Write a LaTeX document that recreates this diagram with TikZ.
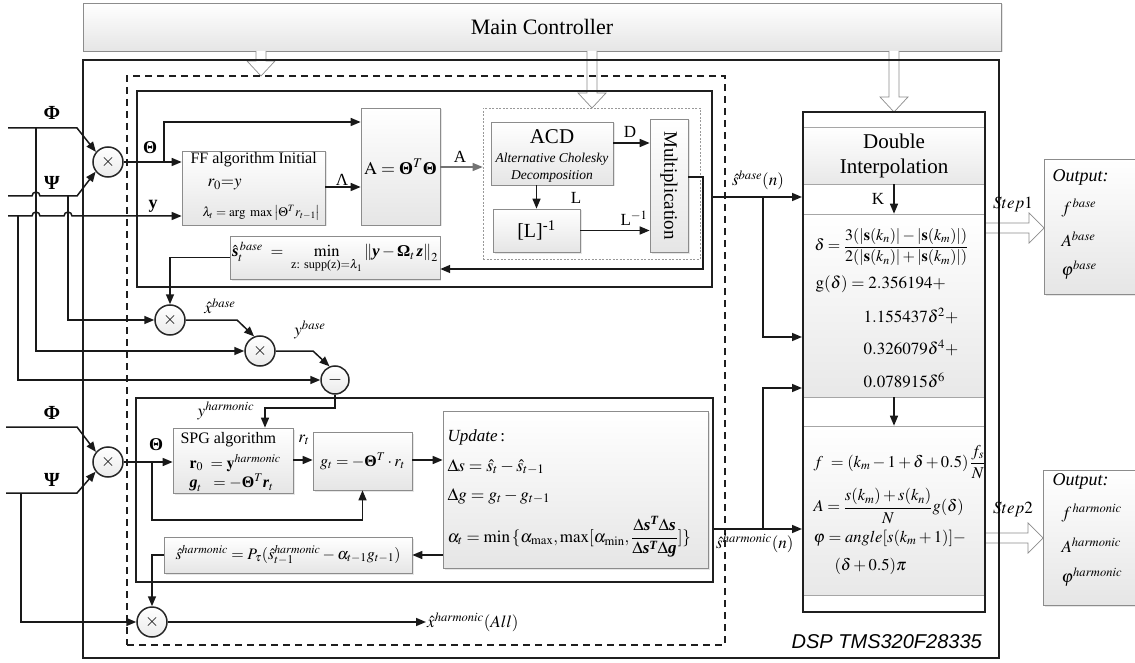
\documentclass[tikz,border=0pt]{standalone}
\usepackage{amsmath}
\usepackage{mathptmx}
\usepackage[no-math]{fontspec}
\setmainfont{Liberation Serif}
\newfontfamily\dspfont{Liberation Sans}
\usetikzlibrary{arrows.meta,shadows}
\newcommand\tb[1]{\text{\normalfont\bfseries #1}}
\newcommand\tbi[1]{\text{\normalfont\bfseries\itshape #1}}
\newcommand\fs[2]{\fontsize{#1}{#2}\selectfont}
\newcommand\hollowdown[3]{\draw[hollow] (#1-5,#2) -- (#1-5,#3-15) -- (#1-14,#3-15) -- (#1,#3) -- (#1+14,#3-15) -- (#1+5,#3-15) -- (#1+5,#2);}
\newcommand\hollowright[3]{\draw[hollow] (#1,#3-5) -- (#2-15,#3-5) -- (#2-15,#3-15) -- (#2,#3) -- (#2-15,#3+15) -- (#2-15,#3+5) -- (#1,#3+5);}
\begin{document}
\begin{tikzpicture}[x=1pt,y=-1pt,font=\fs{16}{19},
  gbox/.style={draw=black!45, line width=0.7pt, top color=white, bottom color=black!10, inner sep=2pt,
     drop shadow={opacity=0.2,shadow xshift=1.5pt,shadow yshift=-1.5pt}},
  sect/.style={draw=black!35, line width=0.6pt, top color=white, bottom color=black!9, inner sep=0pt},
  frame/.style={draw=black!88, line width=2pt, inner sep=0pt},
  conn/.style={line width=1.5pt, draw=black!90},
  arr/.style={conn, -{Triangle[length=10pt,width=8pt]}},
  mulc/.style={circle, draw=black!85, line width=1.5pt, top color=white, bottom color=black!8, minimum size=30pt, inner sep=0pt, font=\fs{18}{20}},
  hollow/.style={draw=black!45, fill=white, line width=0.7pt},
  lab/.style={inner sep=1pt}]
\useasboundingbox (0,0) rectangle (1135,663);

% main controller
\node[gbox, minimum width=918pt, minimum height=48pt, font=\fs{22}{26}] (main) at (542,27) {Main Controller};

% hollow arrows
\hollowdown{261}{51}{76}
\hollowdown{592}{51}{108}
\hollowdown{894}{51}{112}
\hollowright{985}{1044}{228}
\hollowright{985}{1043}{538}

% frames
\node[frame, minimum width=916pt, minimum height=598pt] (dsp) at (541,359) {};
\node[frame, dashed, dash pattern=on 7pt off 5pt, line width=1.6pt, minimum width=598pt, minimum height=569pt] (dash) at (426,360.5) {};
\node[frame, line width=2.4pt, minimum width=575pt, minimum height=196pt] (up) at (424.5,189) {};
\node[frame, line width=2.4pt, minimum width=577pt, minimum height=184pt] (low) at (424.5,490) {};
\node[draw=black!40, dash pattern=on 2pt off 1.5pt, line width=0.6pt, minimum width=217pt, minimum height=151pt] (grp) at (591.5,183.5) {};

% upper boxes
\node[gbox, minimum width=143pt, minimum height=74pt] (ff) at (253.5,188) {};
\node[anchor=west] at (187,160) {FF algorithm Initial};
\node[anchor=west, font=\fs{17}{20}] at (204,185) {$r_0{=}y$};
\node[anchor=west, font=\fs{13}{16}] at (199,213) {$\lambda_t=\arg\ \max\left|\Theta^{T} r_{t-1}\right|$};

\node[gbox, minimum width=79pt, minimum height=117pt, font=\fs{18}{22}] (A) at (400.5,166.5) {$\mathrm{A}=\tb{Θ}^{T}\tb{Θ}$};

\node[gbox, minimum width=122pt, minimum height=63pt] (acd) at (552,153.5) {};
\node[font=\fs{21}{24}] at (552,137) {ACD};
\node[font=\fs{13.5}{16}\itshape] at (552,159) {Alternative Cholesky};
\node[font=\fs{13.5}{16}\itshape] at (552,176) {Decomposition};

\node[gbox, minimum width=87pt, minimum height=43pt, font=\fs{20}{24}] (linv) at (536.5,230.5) {[L]\textsuperscript{-1}};
\node[gbox, minimum width=38pt, minimum height=133pt] (mult) at (669,185.5) {};
\node[rotate=-90, font=\fs{19}{22}] at (mult.center) {Multiplication};

\node[gbox, minimum width=208pt, minimum height=43pt, font=\fs{16.5}{19}] (shb) at (335,257.5)
  {$\hat{\tbi{s}}_t^{\,base}\ =\ \min\limits_{\text{z: supp(z)}=\lambda_1}\left\|\tbi{y}-\tb{Ω}_t\,\tbi{z}\right\|_2$};

% lower boxes
\node[gbox, minimum width=120pt, minimum height=65pt] (spg) at (233,460.5) {};
\node[anchor=west] at (177,440) {SPG algorithm};
\node[anchor=west] at (186,463) {$\mathbf{r}_0\ =\mathbf{y}^{harmonic}$};
\node[anchor=west] at (186,483) {$\tbi{g}_t\ \ =-\tb{Θ}^{T}\tbi{r}_t$};

\node[gbox, minimum width=99pt, minimum height=58pt] (gt) at (362.5,461) {$g_t=-\tb{Θ}^{T}\cdot r_t$};

\node[gbox, minimum width=265pt, minimum height=157pt] (upd) at (575.5,489.5) {};
\node[anchor=west, font=\fs{17}{20}] at (444,437) {\textit{Update}\,:};
\node[anchor=west, font=\fs{17.5}{20}] at (444,467) {$\Delta s=\hat{s}_t-\hat{s}_{t-1}$};
\node[anchor=west, font=\fs{17.5}{20}] at (444,496) {$\Delta g=g_t-g_{t-1}$};
\node[anchor=west, font=\fs{17}{20}] at (444,537) {$\alpha_t=\min\,\{\alpha_{\max},\max[\alpha_{\min},\dfrac{\Delta\tbi{s}^{\tbi{T}}\Delta\tbi{s}}{\Delta\tbi{s}^{\tbi{T}}\Delta\tbi{g}}]\}$};

\node[gbox, minimum width=248pt, minimum height=36pt] (shh) at (288,555) {$\hat{s}^{harmonic}=P_\tau(\hat{s}_{t-1}^{harmonic}-\alpha_{t-1}g_{t-1})$};

% double interpolation
\node[sect, minimum width=182pt, minimum height=57pt, align=center, font=\fs{21}{25}] (dit) at (894,155.5) {Double\\Interpolation};
\node[sect, minimum width=182pt, minimum height=183pt] (dif1) at (894,305.5) {};
\node[sect, minimum width=182pt, minimum height=169pt] (dif2) at (894,510.5) {};
\node[frame, minimum width=182pt, minimum height=500pt] (di) at (894,362) {};
\node[font=\fs{17}{20}] at (878,199) {K};
\node[anchor=west, font=\fs{16}{18}] at (811,247) {$\delta=\dfrac{3(|\mathbf{s}(k_n)|-|\mathbf{s}(k_m)|)}{2(|\mathbf{s}(k_n)|+|\mathbf{s}(k_m)|)}$};
\node[anchor=west, font=\fs{17}{19}] at (812,284) {$\mathrm{g}(\delta)=2.356194+$};
\node[anchor=west, font=\fs{17}{19}] at (860,316) {$1.155437\delta^2+$};
\node[anchor=west, font=\fs{17}{19}] at (860,348) {$0.326079\delta^4+$};
\node[anchor=west, font=\fs{17}{19}] at (860,380) {$0.078915\delta^6$};
\node[anchor=west, font=\fs{16.5}{19}] at (810,462) {$f\ =(k_m-1+\delta+0.5)\,\dfrac{f_s}{N}$};
\node[anchor=west, font=\fs{16.5}{19}] at (810,506) {$A=\dfrac{s(k_m)+s(k_n)}{N}g(\delta)$};
\node[anchor=west, font=\fs{16.5}{19}] at (810,538) {$\varphi=angle[s(k_m+1)]-$};
\node[anchor=west, font=\fs{16.5}{19}] at (831,566) {$(\delta+0.5)\pi$};

% outputs
\node[gbox, minimum width=96pt, minimum height=135pt, anchor=north west] (out1) at (1044,159) {};
\node[anchor=west, font=\fs{18}{20}\itshape] at (1049,177) {Output:};
\node[anchor=west, font=\fs{17}{20}] at (1058,208) {$f^{\,base}$};
\node[anchor=west, font=\fs{17}{20}] at (1058,239) {$A^{base}$};
\node[anchor=west, font=\fs{17}{20}] at (1058,270) {$\varphi^{base}$};
\node[gbox, minimum width=97pt, minimum height=135pt, anchor=north west] (out2) at (1043,470) {};
\node[anchor=west, font=\fs{18}{20}\itshape] at (1049,481) {Output:};
\node[anchor=west, font=\fs{17}{20}] at (1058,513) {$f^{\,harmonic}$};
\node[anchor=west, font=\fs{17}{20}] at (1058,545) {$A^{harmonic}$};
\node[anchor=west, font=\fs{17}{20}] at (1058,577) {$\varphi^{harmonic}$};

% circles
\node[mulc] (c1) at (108,162) {$\times$};
\node[mulc] (c2) at (170,320) {$\times$};
\node[mulc] (c3) at (260,351) {$\times$};
\node[mulc, minimum size=28pt] (cm) at (335,380) {$-$};
\node[mulc] (c4) at (108,462) {$\times$};
\node[mulc] (c5) at (152,622) {$\times$};

% upper-left inputs
\draw[arr] (8,128) -- (77,128) -- (c1.140);
\draw[arr] (8,196) -- (32,196) arc[start angle=180,end angle=0,radius=4pt] -- (77,196) -- (c1.218);
\draw[arr] (8,216) -- (32,216) arc[start angle=180,end angle=0,radius=4pt] -- (64,216) arc[start angle=180,end angle=0,radius=4pt] -- (ff.west |- 0,216);
\draw[arr] (18,216) -- (18,380) -- (cm.west);
\draw[arr] (36,128) -- (36,351) -- (c3.west);
\draw[arr] (68,196) -- (68,320) -- (c2.west);
\draw[arr] (c1.east) -- (ff.west |- c1.east);
\draw[arr] (164,162) -- (164,122) -- (A.west |- 0,122);
\draw[arr] (ff.east |- 0,187) -- (A.west |- 0,187);
\draw[arr, draw=black!55, line width=1.2pt] (A.east |- 0,167) -- (grp.west |- 0,167);
\draw[arr] (acd.east |- 0,143) -- (mult.west |- 0,143);
\draw[arr] (linv.north |- acd.south) -- (linv.north);
\draw[arr] (linv.east) -- (mult.west |- linv.east);
\draw[arr] (mult.east |- 0,177) -- (703,177) -- (703,269) -- (shb.east |- 0,269);
\draw[arr] (shb.west) -| (c2.north);
\draw[arr] (c2.east) -- (237,320) -- (c3.112);
\draw[arr] (c3.east) -- (313,351) -- (cm.112);
\draw[arr] (cm.south) |- (265,408) -- (spg.north -| 265,0);

% lower-left inputs
\draw[arr] (6,427) -- (77,427) -- (c4.140);
\draw[arr] (6,493) -- (77,493) -- (c4.218);
\draw[arr] (21,493) -- (21,622) -- (c5.west);
\draw[arr] (c4.east) -- (spg.west |- c4.east);
\draw[arr] (152,462) -- (152,520) -| (gt.south);
\draw[arr] (spg.east |- 0,460) -- (gt.west |- 0,460);
\draw[arr] (gt.east |- 0,460) -- (upd.west |- 0,460);
\draw[arr] (upd.west |- shh.east) -- (shh.east);
\draw[arr] (shh.west) -| (c5.north);
\coordinate (xh) at (426,622);
\draw[arr] (c5.east) -- (xh);

% right side
\draw[arr] (up.east |- 0,197) -- (di.west |- 0,197);
\draw[arr] (763,197) |- (di.west |- 0,337);
\draw[arr] (low.east |- 0,529) -- (di.west |- 0,529);
\draw[arr] (763,529) |- (di.west |- 0,388);
\draw[arr] (dit.south -| 894,0) -- (dif1.north -| 894,0);
\draw[arr] (dif1.south -| 894,0) -- (dif2.north -| 894,0);

% labels
\node[lab, font=\fs{20}{22}] at (52,113) {\textbf{Φ}};
\node[lab, font=\fs{20}{22}] at (52,183) {\textbf{Ψ}};
\node[lab, font=\fs{18}{20}] at (153,206) {\textbf{y}};
\node[lab, font=\fs{18}{20}] at (150,148) {\textbf{Θ}};
\node[lab, font=\fs{20}{22}] at (52,413) {\textbf{Φ}};
\node[lab, font=\fs{20}{22}] at (52,480) {\textbf{Ψ}};
\node[lab, font=\fs{17}{20}] at (342,180) {Λ};
\node[lab, font=\fs{17}{20}] at (460,157) {A};
\node[lab, font=\fs{17}{20}] at (630,132) {D};
\node[lab, font=\fs{17}{20}] at (576,198) {L};
\node[lab, font=\fs{17}{20}] at (634,218) {L$^{-1}$};
\node[lab, font=\fs{17}{20}] at (758,180) {$\hat{s}^{base}(n)$};
\node[lab, font=\fs{17}{20}] at (220,306) {$\hat{x}^{base}$};
\node[lab, font=\fs{17}{20}] at (310,330) {$y^{base}$};
\node[lab, font=\fs{17}{20}] at (226,411) {$y^{harmonic}$};
\node[lab, font=\fs{18}{20}] at (156,445) {\textbf{Θ}};
\node[lab, font=\fs{17}{20}] at (304,440) {$r_t$};
\node[lab, anchor=west, font=\fs{17}{20}] at (715,543) {$\hat{s}^{harmonic}(n)$};
\node[lab, anchor=west, font=\fs{17}{20}] at (xh) {$\hat{x}^{harmonic}(All)$};
\node[lab, font=\fs{17}{20}] at (1013,205) {$Step1$};
\node[lab, font=\fs{17}{20}] at (1013,510) {$Step2$};
\node[lab, anchor=base east, font=\dspfont\itshape\fs{20}{24}] at (983,648) {DSP TMS320F28335};
\end{tikzpicture}
\end{document}
